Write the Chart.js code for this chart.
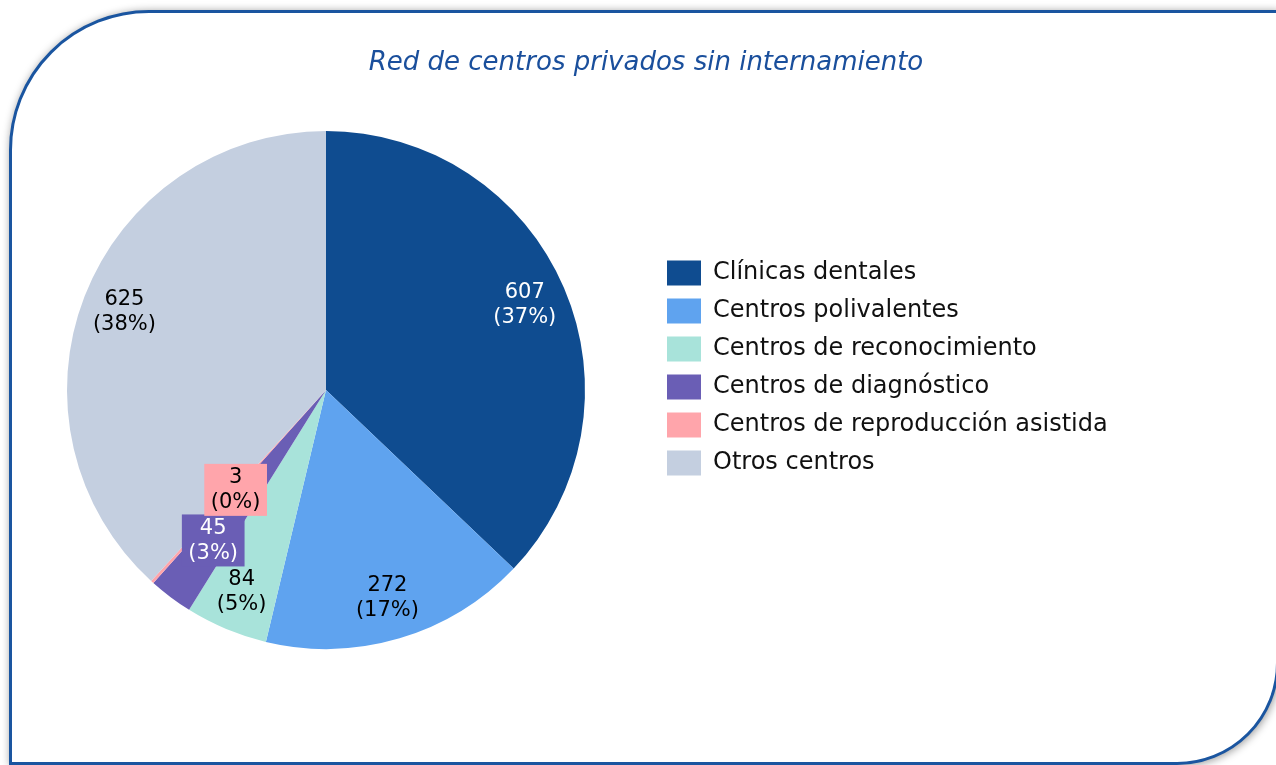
<!DOCTYPE html>
<html>
<head>
<meta charset="utf-8">
<script src="https://cdn.jsdelivr.net/npm/chart.js@4"></script>
<style>
  html, body { margin: 0; padding: 0; background: #fff; overflow: hidden; }
  body { width: 1276px; height: 765px; position: relative; }
  #frame {
    position: absolute; left: 9px; top: 10px; width: 1270px; height: 755px;
    box-sizing: border-box; border: 3px solid #1a55a0;
    border-radius: 140px 0 102px 0;
    box-shadow: 1px 1px 8px rgba(0, 0, 0, 0.4);
    background: #fff;
  }
  #chart { position: absolute; left: -2px; top: 0; }
</style>
</head>
<body>
<div id="frame"></div>
<canvas id="chart" width="1292" height="765"></canvas>
<script>
const chartTitle = 'Red de centros privados sin internamiento';
const categories = ['Clínicas dentales', 'Centros polivalentes', 'Centros de reconocimiento', 'Centros de diagnóstico', 'Centros de reproducción asistida', 'Otros centros'];
const counts = [607, 272, 84, 45, 3, 625];

const sliceColors = ['#0f4c90', '#5fa3ef', '#a8e3da', '#6a5eb5', '#ffa5ab', '#c4cfe0'];
const labelColors = ['#ffffff', '#000000', '#000000', '#ffffff', '#000000', '#000000'];
const labelBoxes = [null, null, null, '#6a5eb5', '#ffa5ab', null];
const labelRadius = [0.835, 0.835, 0.845, 0.726, 0.52, 0.835];

const FONT = 'DejaVu Sans';
const legendFontSize = 24;
const labelFontSize = 21;

// legend width so the legend starts right after the pie area
const measure = document.createElement('canvas').getContext('2d');
measure.font = legendFontSize + 'px "' + FONT + '"';
const longest = Math.max(...categories.map(c => measure.measureText(c).width));
const canvasW = 1292;
const legendLeft = 656;
const legendW = 13 + 34 + legendFontSize / 2 + longest + 10;
const padRight = canvasW - legendLeft - legendW;

// title over the full canvas width, legend a little above the pie centre
const fixLayout = {
  id: 'fixLayout',
  afterLayout(chart) {
    const t = chart.titleBlock;
    t.left = 4;
    t.right = chart.width;
    t.width = chart.width - 4;
    chart.legend.top -= 22;
    chart.legend.bottom -= 22;
  }
};

const pieLabels = {
  id: 'pieLabels',
  afterDatasetsDraw(chart) {
    const ctx = chart.ctx;
    const meta = chart.getDatasetMeta(0);
    const total = counts.reduce((a, b) => a + b, 0);
    ctx.save();
    ctx.font = labelFontSize + 'px "' + FONT + '"';
    ctx.textAlign = 'center';
    ctx.textBaseline = 'middle';
    meta.data.forEach((arc, i) => {
      const p = arc.getProps(['x', 'y', 'startAngle', 'endAngle', 'outerRadius'], true);
      const mid = (p.startAngle + p.endAngle) / 2;
      const r = p.outerRadius * labelRadius[i];
      const x = p.x + Math.cos(mid) * r;
      const y = p.y + Math.sin(mid) * r;
      const lines = [String(counts[i]), '(' + Math.round(counts[i] / total * 100) + '%)'];
      if (labelBoxes[i]) {
        const w = Math.max(...lines.map(l => ctx.measureText(l).width)) + 13;
        const h = 52;
        ctx.fillStyle = labelBoxes[i];
        ctx.fillRect(x - w / 2, y - h / 2, w, h);
      }
      ctx.fillStyle = labelColors[i];
      ctx.fillText(lines[0], x, y - 12);
      ctx.fillText(lines[1], x, y + 13);
    });
    ctx.restore();
  }
};

new Chart(document.getElementById('chart'), {
  type: 'pie',
  data: {
    labels: categories,
    datasets: [{
      data: counts,
      backgroundColor: sliceColors,
      borderWidth: 0,
      hoverBorderWidth: 0,
      hoverOffset: 0
    }]
  },
  options: {
    responsive: false,
    animation: false,
    devicePixelRatio: 1,
    layout: { padding: { left: 0, right: padRight, top: 0, bottom: 116 } },
    plugins: {
      title: {
        display: true,
        text: chartTitle,
        color: '#1a4f9c',
        font: { family: FONT, size: 26, style: 'italic', weight: 'normal' },
        padding: { top: 47.4, bottom: 52.4 }
      },
      legend: {
        position: 'right',
        align: 'center',
        fullSize: false,
        labels: {
          boxWidth: 34,
          boxHeight: 25,
          padding: 13,
          color: '#111111',
          font: { family: FONT, size: legendFontSize }
        }
      },
      tooltip: { enabled: false }
    }
  },
  plugins: [fixLayout, pieLabels]
});
</script>
</body>
</html>
